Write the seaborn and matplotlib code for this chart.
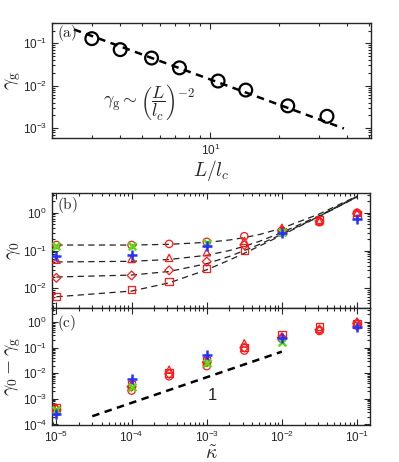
import numpy as np
import pandas as pd
import seaborn as sns
import matplotlib.pyplot as plt
from matplotlib.ticker import LogLocator, NullFormatter

# panel (a): gamma_g vs L/l_c
L_lc = [3.0, 4.0, 5.5, 7.3, 10.8, 14.3, 21.9, 32.6]
gamma_g = [0.129, 0.071, 0.045, 0.0264, 0.0129, 0.0079, 0.00335, 0.0019]
fit_a_x = [2.5, 38.7]
fit_a_y = [0.213, 0.00098]

# panels (b), (c): vs kappa
kappa_red = [1e-5, 1e-4, 3.16e-4, 1e-3, 3.16e-3, 1e-2, 3.16e-2, 1e-1]
kappa_plus = [1e-5, 1e-4, 1e-3, 1e-2, 1e-1]
kappa_x = [1e-5, 1e-4, 1e-3, 1e-2]

g0_circle = [0.14, 0.14, 0.15, 0.17, 0.24, 0.33, 0.56, 1.0]
g0_triangle = [0.057, 0.06, 0.064, 0.09, 0.18, 0.40, 0.60, 1.0]
g0_diamond = [0.019, 0.022, 0.030, 0.051, 0.14, 0.35, 0.60, 0.95]
g0_square = [0.0062, 0.0093, 0.015, 0.034, 0.104, 0.32, 0.65, 0.87]
g0_plus = [0.071, 0.077, 0.128, 0.29, 0.69]
g0_x = [0.135, 0.135, 0.16, 0.31]

# dashed curves in (b)
kappa_fit = [1e-5, 1e-4, 3.16e-4, 1e-3, 2e-3, 3.16e-3, 5e-3, 1e-2, 3.16e-2, 1e-1]
fit_circle = [0.14, 0.14, 0.146, 0.165, 0.19, 0.22, 0.265, 0.39, 0.93, 2.75]
fit_triangle = [0.05, 0.052, 0.058, 0.075, 0.10, 0.13, 0.175, 0.30, 0.84, 2.7]
fit_diamond = [0.02, 0.0225, 0.028, 0.045, 0.07, 0.10, 0.145, 0.27, 0.81, 2.65]
fit_square = [0.006, 0.0085, 0.014, 0.031, 0.056, 0.085, 0.131, 0.256, 0.80, 2.6]

gd_circle = [3.0e-4, 2.1e-3, 7.6e-3, 0.019, 0.077, 0.22, 0.45, 0.72]
gd_triangle = [4.5e-4, 3.8e-3, 0.0138, 0.035, 0.149, 0.27, 0.55, 1.05]
gd_diamond = [3.8e-4, 3.0e-3, 9.5e-3, 0.027, 0.10, 0.25, 0.50, 0.90]
gd_square = [4.5e-4, 3.5e-3, 0.0103, 0.030, 0.104, 0.33, 0.66, 0.85]
gd_plus = [2.6e-4, 6.2e-3, 0.052, 0.23, 0.66]
gd_x = [3.6e-4, 2.8e-3, 0.025, 0.17]
fit_c_x = [3e-5, 1e-2]
fit_c_y = [2.1e-4, 0.07]

sns.set_style("ticks")
plt.rcParams['font.family'] = ['Liberation Sans', 'DejaVu Sans']
plt.rcParams['mathtext.fontset'] = 'cm'

RED = '#ff1a1a'
BLUE = '#2233ff'
GREEN = '#55dd11'

fig = plt.figure(figsize=(3.99, 4.62), dpi=100)
ax_a = fig.add_axes([0.130, 0.701, 0.800, 0.249])
ax_b = fig.add_axes([0.130, 0.333, 0.797, 0.249])
ax_c = fig.add_axes([0.130, 0.080, 0.797, 0.253])


def style_axis(ax):
    ax.set_xscale('log')
    ax.set_yscale('log')
    ax.tick_params(which='both', direction='in', top=True, right=True,
                   labelsize=8.5, width=0.8)
    ax.tick_params(which='major', length=4)
    ax.tick_params(which='minor', length=2)
    ax.xaxis.set_minor_locator(LogLocator(subs=np.arange(2, 10), numticks=20))
    ax.yaxis.set_minor_locator(LogLocator(subs=np.arange(2, 10), numticks=20))
    ax.xaxis.set_minor_formatter(NullFormatter())
    ax.yaxis.set_minor_formatter(NullFormatter())
    for s in ax.spines.values():
        s.set_linewidth(1.0)


def put_ylabel(ax, text):
    ax.set_ylabel(text, fontsize=14, va='center')
    ax.yaxis.set_label_coords(-0.12, 0.5)


# ---- (a)
sns.lineplot(x=fit_a_x, y=fit_a_y, ax=ax_a, color='black', lw=1.8,
             linestyle=(0, (3, 2.2)))
sns.scatterplot(x=L_lc, y=gamma_g, ax=ax_a, marker='o', s=85,
                facecolor='none', edgecolor='black', linewidth=1.6, zorder=3)
style_axis(ax_a)
ax_a.set_xlim(2, 51)
ax_a.set_ylim(5.8e-4, 0.3)
ax_a.yaxis.set_major_locator(LogLocator(numticks=10))
ax_a.set_xlabel(r'$L/l_c$', fontsize=14, labelpad=0)
put_ylabel(ax_a, r'$\gamma_{\rm g}$')
ax_a.text(0.015, 0.88, r'$\mathrm{(a)}$', transform=ax_a.transAxes, fontsize=11)
ax_a.text(0.16, 0.31, r'$\gamma_{\rm g} \sim \left(\dfrac{L}{l_c}\right)^{-2}$',
          transform=ax_a.transAxes, fontsize=13, va='center')

# ---- (b)
for fy in [fit_circle, fit_triangle, fit_diamond, fit_square]:
    sns.lineplot(x=kappa_fit, y=fy, ax=ax_b, color='#222222', lw=0.9,
                 linestyle=(0, (5, 3.5)))


def draw_points(ax, c_o, c_t, c_d, c_s, c_p, c_x):
    for vals, mk in [(c_o, 'o'), (c_t, '^'), (c_d, 'D'), (c_s, 's')]:
        sz = 20 if mk == 'D' else 28
        sns.scatterplot(x=kappa_red, y=vals, ax=ax, marker=mk, s=sz,
                        facecolor='none', edgecolor=RED, linewidth=0.9, zorder=3)
    sns.scatterplot(x=kappa_x, y=c_x, ax=ax, marker='x', s=30, color=GREEN,
                    linewidth=1.8, zorder=4)
    sns.scatterplot(x=kappa_plus, y=c_p, ax=ax, marker='+', s=55, color=BLUE,
                    linewidth=1.8, zorder=5)


draw_points(ax_b, g0_circle, g0_triangle, g0_diamond, g0_square, g0_plus, g0_x)
style_axis(ax_b)
ax_b.set_xlim(8.7e-6, 0.148)
ax_b.set_ylim(3e-3, 3.3)
ax_b.tick_params(labelbottom=False)
put_ylabel(ax_b, r'$\gamma_0$')
ax_b.text(0.015, 0.86, r'$\mathrm{(b)}$', transform=ax_b.transAxes, fontsize=11)

# ---- (c)
sns.lineplot(x=fit_c_x, y=fit_c_y, ax=ax_c, color='black', lw=1.8,
             linestyle=(0, (3, 2.2)))
draw_points(ax_c, gd_circle, gd_triangle, gd_diamond, gd_square, gd_plus, gd_x)
style_axis(ax_c)
ax_c.set_xlim(8.7e-6, 0.148)
ax_c.set_ylim(9.5e-5, 3.5)
ax_c.yaxis.set_major_locator(LogLocator(numticks=10))
ax_c.set_xlabel(r'$\tilde{\kappa}$', fontsize=14, labelpad=0)
put_ylabel(ax_c, r'$\gamma_0 - \gamma_{\rm g}$')
ax_c.text(0.015, 0.84, r'$\mathrm{(c)}$', transform=ax_c.transAxes, fontsize=11)
ax_c.text(1.2e-3, 1.3e-3, '1', fontsize=12, ha='center', va='center')

for ax in [ax_a, ax_b, ax_c]:
    leg = ax.get_legend()
    if leg is not None:
        leg.remove()

fig.savefig('out.png', dpi=100)
